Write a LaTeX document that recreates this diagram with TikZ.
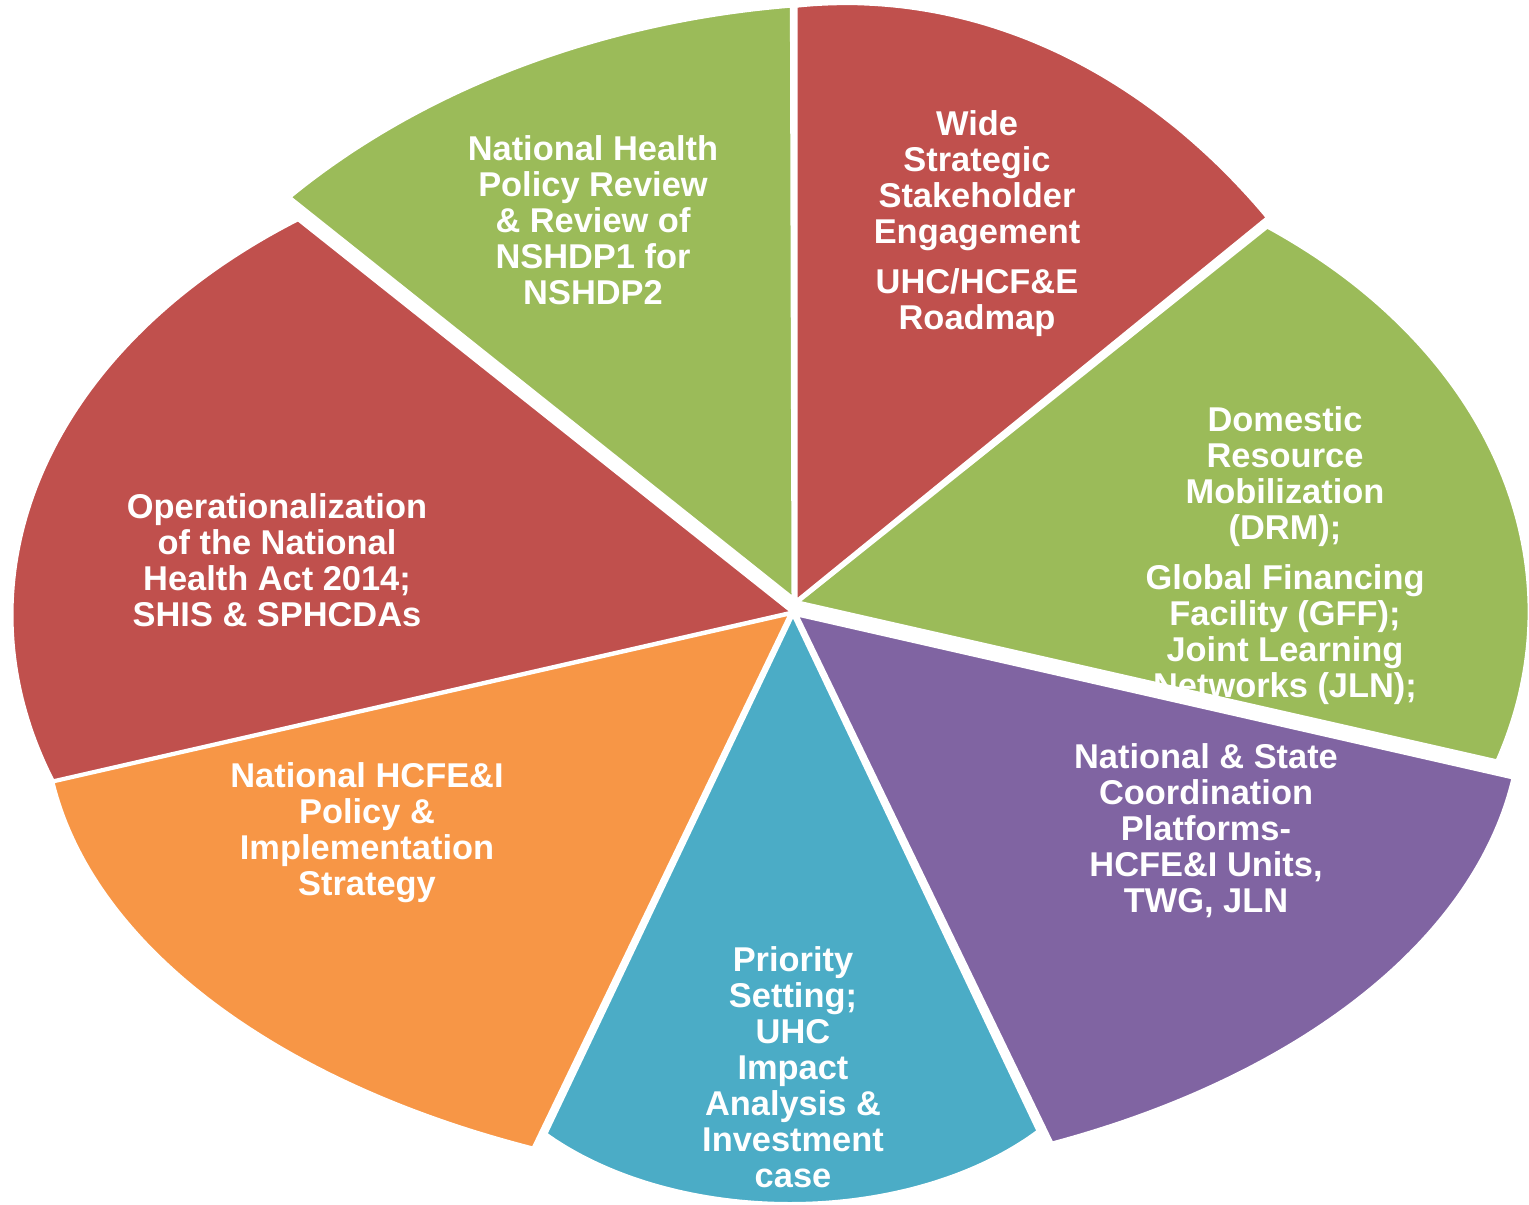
\documentclass[tikz,border=0pt]{standalone}
\usepackage{fontspec}
\setmainfont{Liberation Sans}
\definecolor{cred}{HTML}{C0504D}
\definecolor{cgreen}{HTML}{9BBB59}
\definecolor{cpurple}{HTML}{8064A2}
\definecolor{cteal}{HTML}{4BACC6}
\definecolor{corange}{HTML}{F79646}
\begin{document}
\begin{tikzpicture}[x=0.5pt,y=-0.5pt,
  slice/.style={draw=white,line width=1.5pt,line join=miter},
  lbl/.style={text=white,font=\bfseries\fontsize{17.2}{18}\selectfont,align=center,inner sep=0pt}]
\useasboundingbox (0,0) rectangle (1529,1204);
% red left
\path[slice,fill=cred] (792,612) -- plot[domain=160.1:234.25,samples=90,variable=\t] ({700+688*cos(\t)},{615+487*sin(\t)}) -- cycle;
\node[lbl] (rl) at (277,560) {Operationalization\\of the National\\Health Act 2014;\\SHIS \& SPHCDAs};
% green top left
\path[slice,fill=cgreen] (793,598) -- plot[domain=222.8:263.9,samples=60,variable=\t] ({876.3+799.3*cos(\t)},{609.5+606.8*sin(\t)}) -- cycle;
\node[lbl] (gtl) at (593,220) {National Health\\Policy Review\\\& Review of\\NSHDP1 for\\NSHDP2};
% red top right
\path[slice,fill=cred] (796,601) -- plot[domain=265.4:312.5,samples=60,variable=\t] ({846+623.7*cos(\t)},{818+814.4*sin(\t)}) -- cycle;
\node[lbl] (rtr) at (977,224) {Wide\\Strategic\\Stakeholder\\Engagement\\[7pt]UHC/HCF\&E\\Roadmap};
% green right
\path[slice,fill=cgreen] (798,602) -- plot[domain=-54:18.3,samples=80,variable=\t] ({894+635.1*cos(\t)},{611.6+475.2*sin(\t)}) -- cycle;
\node[lbl] (gr) at (1285,556) {Domestic\\Resource\\Mobilization\\(DRM);\\[7pt]Global Financing\\Facility (GFF);\\Joint Learning\\Networks (JLN);};
% purple
\path[slice,fill=cpurple] (797,615) -- plot[domain=7.93:65.76,samples=70,variable=\t] ({725.5+795.1*cos(\t)},{712.9+471.7*sin(\t)}) -- cycle;
\node[lbl] (pu) at (1206,831) {National \& State\\Coordination\\Platforms-\\HCFE\&I Units,\\TWG, JLN};
% teal
\path[slice,fill=cteal] (793,615) -- plot[domain=40.47:138.47,samples=80,variable=\t] ({790+326*cos(\t)},{996.8+206.7*sin(\t)}) -- cycle;
\node[lbl] (te) at (793,1067) {Priority\\Setting;\\UHC\\Impact\\Analysis \&\\Investment\\case};
% orange
\path[slice,fill=corange] (790,614) -- plot[domain=113.95:172.07,samples=70,variable=\t] ({866.5+821.4*cos(\t)},{716.9+471.7*sin(\t)}) -- cycle;
\node[lbl] (or) at (367,833) {National HCFE\&I\\Policy \&\\Implementation\\Strategy};
\end{tikzpicture}
\end{document}
